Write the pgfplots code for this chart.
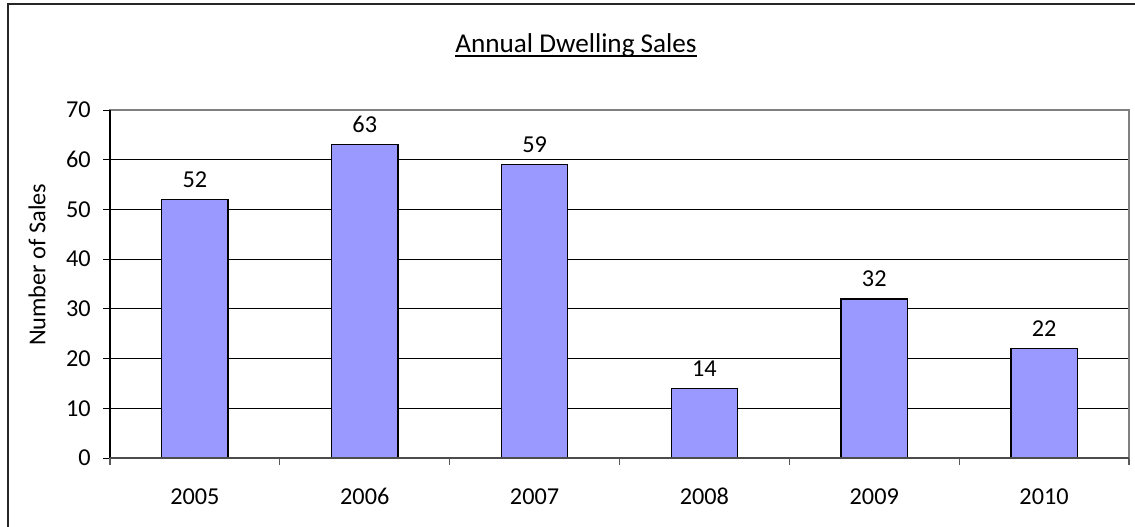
\documentclass[border=0pt]{standalone}
\usepackage{pgfplots}
\pgfplotsset{compat=1.18}
\usepackage{fontspec}
\setmainfont{Carlito}
\definecolor{barblue}{HTML}{9999FF}
\begin{document}
\begin{tikzpicture}
\path[use as bounding box] (0,0) rectangle (851.25pt,395.25pt);
\draw[line width=1.3pt, black!85] (6pt,0) -- (6pt,392.4pt) -- (851.25pt,392.4pt);
\node[anchor=base, inner sep=0pt, font=\fontsize{20.4pt}{24pt}\selectfont] (t) at (432pt,355.5pt) {Annual Dwelling Sales};
\draw[line width=1.1pt] ([yshift=-2.4pt]t.base west) -- ([yshift=-2.4pt]t.base east);
\begin{axis}[
  at={(82.5pt,51.75pt)}, anchor=south west,
  scale only axis, width=764.25pt, height=261pt,
  font=\fontsize{18.2pt}{21pt}\selectfont,
  /pgf/number format/assume math mode=true,
  ybar, bar width=0.39,
  xmin=-0.5, xmax=5.5, ymin=0, ymax=70,
  xtick={0,1,2,3,4,5},
  xticklabels={2005,2006,2007,2008,2009,2010},
  minor xtick={-0.5,0.5,1.5,2.5,3.5,4.5,5.5},
  ytick={0,10,...,70},
  tick pos=left,
  tick align=outside,
  major tick length=5pt,
  minor tick length=5pt,
  x tick style={draw=none},
  minor x tick style={draw=black!65, line width=0.9pt},
  y tick style={draw=black, line width=0.6pt},
  ymajorgrids, grid style={black, line width=0.6pt},
  axis line style={draw=black!50, line width=1pt},
  xticklabel style={anchor=base, yshift=-30pt},
  yticklabel style={xshift=-6pt},
  ylabel={Number of Sales},
  ylabel style={at={(axis description cs:-0.0716,0.555)}, anchor=center},
  nodes near coords,
  every node near coord/.append style={yshift=5pt, black},
  clip=false,
]
\addplot[fill=barblue, draw=black, line width=1pt] coordinates {(0,52) (1,63) (2,59) (3,14) (4,32) (5,22)};
\draw[black, line width=0.9pt] (rel axis cs:0,0) -- (rel axis cs:0,1);
\draw[black!70, line width=1.2pt] (rel axis cs:0,0) -- (rel axis cs:1,0);
\end{axis}
\end{tikzpicture}
\end{document}
